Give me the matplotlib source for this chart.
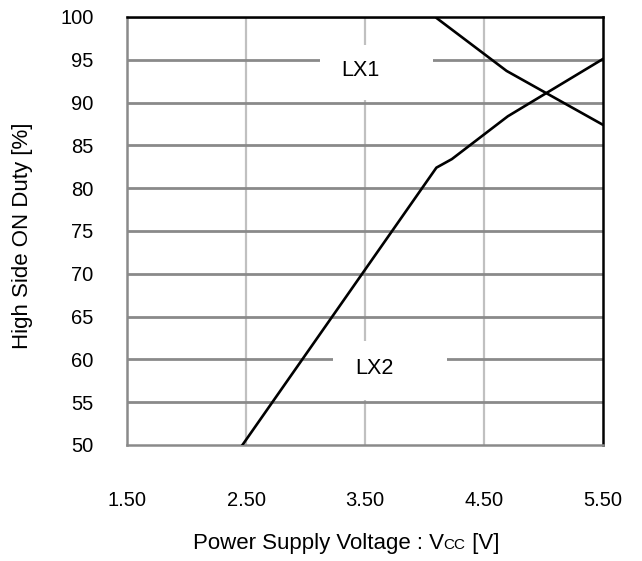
import matplotlib
matplotlib.use("Agg")
import matplotlib.pyplot as plt
from matplotlib.patches import Rectangle
from matplotlib.offsetbox import TextArea, HPacker, AnchoredOffsetbox

plt.rcParams['font.family'] = ['Liberation Sans', 'DejaVu Sans']

# data
lx1_vcc = [1.5, 4.09, 4.69, 5.5]
lx1_duty = [100, 100, 93.7, 87.4]
lx2_vcc = [2.47, 4.10, 4.23, 4.70, 5.5]
lx2_duty = [50, 82.4, 83.4, 88.4, 95.1]

x_ticks = [1.5, 2.5, 3.5, 4.5, 5.5]
y_ticks = [50, 55, 60, 65, 70, 75, 80, 85, 90, 95, 100]

fig = plt.figure(figsize=(6.42, 5.61), dpi=100)
ax = fig.add_axes([127 / 642, 1 - 445 / 561, 476 / 642, 428 / 561])

ax.set_xlim(1.5, 5.5)
ax.set_ylim(50, 100)

# grid: horizontal darker, vertical lighter
for y in y_ticks[1:-1]:
    ax.axhline(y, color='#8a8a8a', lw=2.0, zorder=0.5)
for x in x_ticks[1:-1]:
    ax.axvline(x, color='#c0c0c0', lw=1.6, zorder=0.4)

# white boxes behind the curve labels
ax.add_patch(Rectangle((3.12, 90.3), 0.95, 6.4, facecolor='white',
                       edgecolor='none', zorder=1))
ax.add_patch(Rectangle((3.23, 55.2), 0.96, 6.9, facecolor='white',
                       edgecolor='none', zorder=1))

ax.plot(lx1_vcc, lx1_duty, color='black', lw=1.9, zorder=3)
ax.plot(lx2_vcc, lx2_duty, color='black', lw=1.9, zorder=3)

ax.text(3.46, 93.7, 'LX1', fontsize=15.5, ha='center', va='center', zorder=4)
ax.text(3.58, 58.9, 'LX2', fontsize=15.5, ha='center', va='center', zorder=4)

for side in ['left', 'bottom']:
    ax.spines[side].set_color('#8a8a8a')
    ax.spines[side].set_linewidth(1.8)
for side in ['top', 'right']:
    ax.spines[side].set_color('black')
    ax.spines[side].set_linewidth(1.8)

ax.set_xticks(x_ticks)
ax.set_xticklabels(['%.2f' % v for v in x_ticks])
ax.set_yticks(y_ticks)
ax.set_yticklabels([str(v) for v in y_ticks])
ax.tick_params(axis='both', length=0, labelsize=14.5)
ax.tick_params(axis='x', pad=33)
ax.tick_params(axis='y', pad=24)

ax.set_ylabel('High Side ON Duty [%]', fontsize=16)
ax.yaxis.set_label_coords(-0.197, 0.49)

# x label with small "CC" on the baseline
parts = [TextArea('Power Supply Voltage : V', textprops=dict(size=16)),
         TextArea('CC', textprops=dict(size=11)),
         TextArea(' [V]', textprops=dict(size=16))]
label = HPacker(children=parts, align='baseline', pad=0, sep=0)
box = AnchoredOffsetbox(loc='upper center', child=label, pad=0, borderpad=0,
                        frameon=False, bbox_to_anchor=(0.46, -0.205),
                        bbox_transform=ax.transAxes)
ax.add_artist(box)

fig.savefig('out.png', dpi=100)
